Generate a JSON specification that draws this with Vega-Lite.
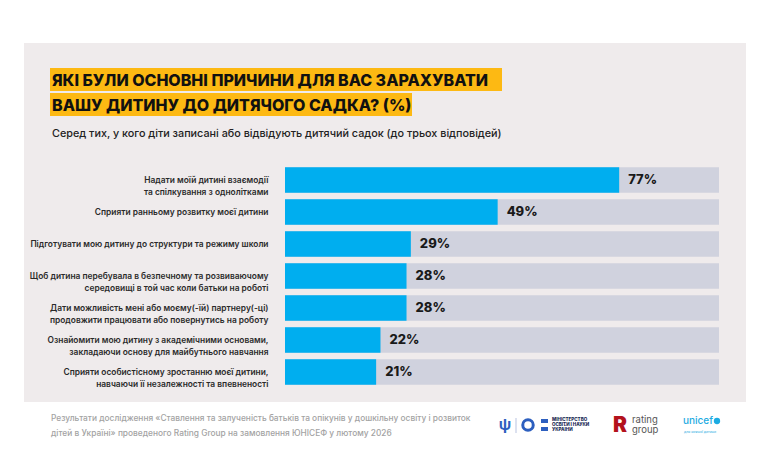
{
  "$schema": "https://vega.github.io/schema/vega-lite/v6.json",
  "width": 722,
  "height": 359,
  "autosize": {"type": "none"},
  "padding": {"left": 24, "top": 43, "right": 24, "bottom": 73},
  "background": "#ffffff",
  "view": {"fill": "#efebec", "stroke": null},
  "config": {"font": "Inter", "axis": {"grid": false}},
  "data": {
    "values": [
      {"reason": "Надати моїй дитині взаємодії|та спілкування з однолітками", "value": 77},
      {"reason": "Сприяти ранньому розвитку моєї дитини", "value": 49},
      {"reason": "Підготувати мою дитину до структури та режиму школи", "value": 29},
      {"reason": "Щоб дитина перебувала в безпечному та розвиваючому|середовищі в той час коли батьки на роботі", "value": 28},
      {"reason": "Дати можливість мені або моєму(-їй) партнеру(-ці)|продовжити працювати або повернутись на роботу", "value": 28},
      {"reason": "Ознайомити мою дитину з академічними основами,|закладаючи основу для майбутнього навчання", "value": 22},
      {"reason": "Сприяти особистісному зростанню моєї дитини,|навчаючи її незалежності та впевненості", "value": 21}
    ]
  },
  "layer": [
    {
      "mark": {"type": "bar", "color": "#d0d2de"},
      "encoding": {
        "y": {
          "field": "reason", "type": "nominal", "sort": null,
          "scale": {"range": [121, 345], "paddingInner": 0.2, "paddingOuter": 0.1},
          "axis": {
            "orient": "left", "offset": -244, "title": null, "domain": false, "ticks": false,
            "labelPadding": 0, "labelFontSize": 8.4, "labelFontWeight": 600, "labelColor": "#2a2a2a",
            "labelLineHeight": 11.5, "labelLimit": 300, "labelExpr": "split(datum.label, '|')"
          }
        },
        "x": {"datum": 100, "type": "quantitative", "scale": {"domain": [0, 100], "range": [261, 695], "nice": false}, "axis": null}
      }
    },
    {
      "mark": {"type": "bar", "color": "#00aeef"},
      "encoding": {
        "y": {"field": "reason", "type": "nominal", "sort": null},
        "x": {"field": "value", "type": "quantitative"}
      }
    },
    {
      "transform": [{"calculate": "datum.value + '%'", "as": "lbl"}],
      "mark": {"type": "text", "align": "left", "baseline": "middle", "dx": 9, "fontSize": 13, "fontWeight": 800, "color": "#1a1a1a"},
      "encoding": {
        "y": {"field": "reason", "type": "nominal", "sort": null},
        "x": {"field": "value", "type": "quantitative"},
        "text": {"field": "lbl"}
      }
    },
    {
      "data": {"values": [{}]},
      "layer": [
        {"mark": {"type": "rect", "color": "#fdb913"}, "encoding": {"x": {"value": 26}, "x2": {"value": 478}, "y": {"value": 25}, "y2": {"value": 48}}},
        {"mark": {"type": "rect", "color": "#fdb913"}, "encoding": {"x": {"value": 26}, "x2": {"value": 388}, "y": {"value": 50}, "y2": {"value": 73}}},
        {"mark": {"type": "text", "align": "left", "baseline": "alphabetic", "fontSize": 16, "fontWeight": 800, "color": "#111111", "text": "ЯКІ БУЛИ ОСНОВНІ ПРИЧИНИ ДЛЯ ВАС ЗАРАХУВАТИ"}, "encoding": {"x": {"value": 28}, "y": {"value": 43}}},
        {"mark": {"type": "text", "align": "left", "baseline": "alphabetic", "fontSize": 16, "fontWeight": 800, "color": "#111111", "text": "ВАШУ ДИТИНУ ДО ДИТЯЧОГО САДКА? (%)"}, "encoding": {"x": {"value": 28}, "y": {"value": 68}}},
        {"mark": {"type": "text", "align": "left", "baseline": "middle", "fontSize": 10.8, "fontWeight": 500, "color": "#222222", "text": "Серед тих, у кого діти записані або відвідують дитячий садок (до трьох відповідей)"}, "encoding": {"x": {"value": 28}, "y": {"value": 91}}},
        {"mark": {"type": "text", "align": "left", "baseline": "middle", "fontSize": 8.35, "fontWeight": 500, "color": "#a3a3a3", "text": "Результати дослідження «Ставлення та залученість батьків та опікунів у дошкільну освіту і розвиток"}, "encoding": {"x": {"value": 27}, "y": {"value": 375}}},
        {"mark": {"type": "text", "align": "left", "baseline": "middle", "fontSize": 8.35, "fontWeight": 500, "color": "#a3a3a3", "text": "дітей в Україні» проведеного Rating Group на замовлення ЮНІСЕФ у лютому 2026"}, "encoding": {"x": {"value": 27}, "y": {"value": 390}}},
        {"mark": {"type": "text", "align": "center", "baseline": "middle", "fontSize": 15, "fontWeight": 700, "color": "#2d5fbf", "text": "ψ"}, "encoding": {"x": {"value": 481}, "y": {"value": 382}}},
        {"mark": {"type": "rule", "color": "#b9c3e0", "strokeWidth": 1}, "encoding": {"x": {"value": 492}, "y": {"value": 375}, "y2": {"value": 390}}},
        {"mark": {"type": "point", "shape": "circle", "size": 110, "filled": false, "strokeWidth": 3, "color": "#2d5fbf", "opacity": 1}, "encoding": {"x": {"value": 504}, "y": {"value": 382}}},
        {"mark": {"type": "rect", "color": "#2d5fbf"}, "encoding": {"x": {"value": 517}, "x2": {"value": 524}, "y": {"value": 376}, "y2": {"value": 380}}},
        {"mark": {"type": "rect", "color": "#2d5fbf"}, "encoding": {"x": {"value": 517}, "x2": {"value": 524}, "y": {"value": 384}, "y2": {"value": 388}}},
        {"mark": {"type": "text", "align": "left", "baseline": "middle", "fontSize": 4.5, "fontWeight": 800, "color": "#1a2a55", "text": "МІНІСТЕРСТВО"}, "encoding": {"x": {"value": 528}, "y": {"value": 377}}},
        {"mark": {"type": "text", "align": "left", "baseline": "middle", "fontSize": 4.5, "fontWeight": 800, "color": "#1a2a55", "text": "ОСВІТИ І НАУКИ"}, "encoding": {"x": {"value": 528}, "y": {"value": 382}}},
        {"mark": {"type": "text", "align": "left", "baseline": "middle", "fontSize": 4.5, "fontWeight": 800, "color": "#1a2a55", "text": "УКРАЇНИ"}, "encoding": {"x": {"value": 528}, "y": {"value": 387}}},
        {"mark": {"type": "text", "align": "left", "baseline": "middle", "fontSize": 21, "fontWeight": 900, "color": "#b3121c", "text": "R"}, "encoding": {"x": {"value": 589}, "y": {"value": 383}}},
        {"mark": {"type": "text", "align": "left", "baseline": "middle", "fontSize": 9.5, "fontWeight": 400, "color": "#555555", "text": "rating"}, "encoding": {"x": {"value": 608}, "y": {"value": 377}}},
        {"mark": {"type": "text", "align": "left", "baseline": "middle", "fontSize": 9.5, "fontWeight": 400, "color": "#555555", "text": "group"}, "encoding": {"x": {"value": 608}, "y": {"value": 387}}},
        {"mark": {"type": "text", "align": "left", "baseline": "middle", "fontSize": 10, "fontWeight": 500, "color": "#1cabe2", "text": "unicef"}, "encoding": {"x": {"value": 659}, "y": {"value": 378}}},
        {"mark": {"type": "point", "shape": "circle", "size": 40, "filled": true, "color": "#1cabe2", "opacity": 1}, "encoding": {"x": {"value": 693}, "y": {"value": 378}}},
        {"mark": {"type": "text", "align": "left", "baseline": "middle", "fontSize": 3.5, "fontWeight": 400, "color": "#1cabe2", "text": "для кожної дитини"}, "encoding": {"x": {"value": 660}, "y": {"value": 389}}}
      ]
    }
  ]
}
